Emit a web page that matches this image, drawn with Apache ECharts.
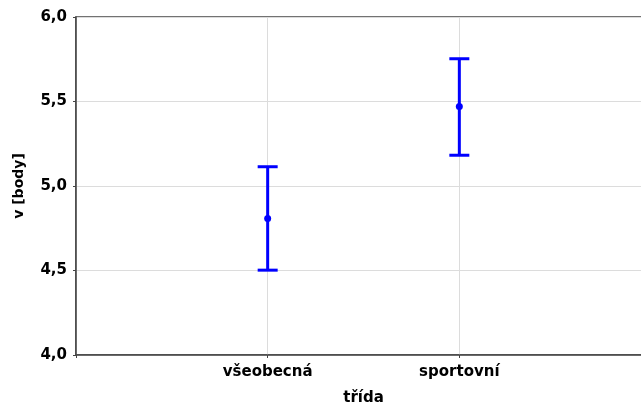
<!DOCTYPE html>
<html><head><meta charset="utf-8">
<script src="https://cdn.jsdelivr.net/npm/echarts@6/dist/echarts.min.js"></script>
<style>html,body{margin:0;padding:0;background:#fff}#c{width:641px;height:407px}</style>
</head><body><div id="c"></div>
<script>
const categories = ['všeobecná', 'sportovní'];
const means = [4.808, 5.470];
const lower = [4.502, 5.182];
const upper = [5.114, 5.753];
const yTicks = [4.0, 4.5, 5.0, 5.5, 6.0];

const axisData = [''].concat(categories, ['']);
const chart = echarts.init(document.getElementById('c'));
const font = 'DejaVu Sans';
chart.setOption({
  animation: false,
  grid: { left: 76, width: 575, top: 17, height: 338, outerBoundsMode: 'none', containLabel: false,
    show: true, borderColor: '#444', borderWidth: 1.5, backgroundColor: 'transparent' },
  xAxis: {
    type: 'category', data: axisData, boundaryGap: false,
    name: 'třída', nameLocation: 'middle', nameGap: 36,
    nameTextStyle: { fontFamily: font, fontWeight: 'bold', fontSize: 15, color: '#000' },
    axisLine: { lineStyle: { color: '#444', width: 1.5 } },
    axisTick: { show: true, length: 3, lineStyle: { color: '#444' }, interval: 0 },
    axisLabel: { fontFamily: font, fontWeight: 'bold', fontSize: 15, color: '#000', margin: 10, interval: 0 },
    splitLine: { show: true, lineStyle: { color: '#dcdcdc', width: 1 } }
  },
  yAxis: {
    type: 'value', min: yTicks[0], max: yTicks[yTicks.length - 1], interval: 0.5,
    name: 'v [body]', nameLocation: 'middle', nameGap: 50, nameRotate: 90,
    nameTextStyle: { fontFamily: font, fontWeight: 'bold', fontSize: 14, color: '#000' },
    axisLine: { show: true, lineStyle: { color: '#444', width: 1.5 } },
    axisTick: { show: true, length: 3, lineStyle: { color: '#444' } },
    axisLabel: { fontFamily: font, fontWeight: 'bold', fontSize: 15, color: '#000', margin: 9,
      formatter: v => v.toFixed(1).replace('.', ',') },
    splitLine: { show: true, lineStyle: { color: '#dcdcdc', width: 1 } }
  },
  series: [{
    type: 'custom',
    data: categories.map((c, i) => [i + 1, means[i], lower[i], upper[i]]),
    encode: { x: 0, y: [1, 2, 3] },
    renderItem: function (params, api) {
      const x = api.value(0);
      const pm = api.coord([x, api.value(1)]);
      const pl = api.coord([x, api.value(2)]);
      const pu = api.coord([x, api.value(3)]);
      const hw = 10;
      const st = { stroke: '#0000ff', lineWidth: 3 };
      return { type: 'group', children: [
        { type: 'line', shape: { x1: pl[0], y1: pl[1], x2: pu[0], y2: pu[1] }, style: st },
        { type: 'line', shape: { x1: pu[0] - hw, y1: pu[1], x2: pu[0] + hw, y2: pu[1] }, style: st },
        { type: 'line', shape: { x1: pl[0] - hw, y1: pl[1], x2: pl[0] + hw, y2: pl[1] }, style: st },
        { type: 'circle', shape: { cx: pm[0], cy: pm[1], r: 3.5 }, style: { fill: '#0000ff' } }
      ]};
    }
  }]
});
</script></body></html>
